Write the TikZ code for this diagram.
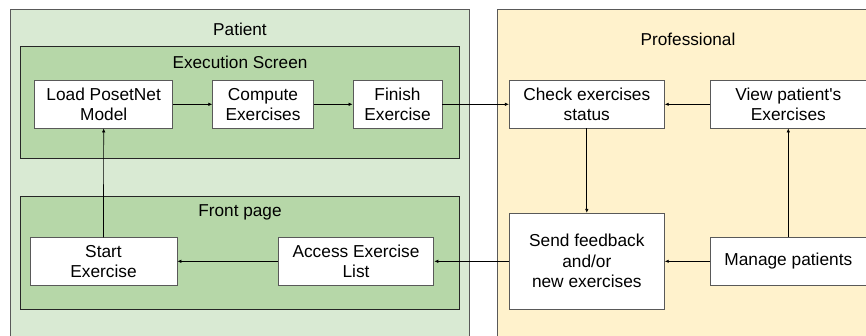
\documentclass[tikz,border=0pt]{standalone}
\usepackage{fontspec}
\setmainfont{Liberation Sans}
\usetikzlibrary{arrows.meta}
\definecolor{patbg}{HTML}{D9EAD3}
\definecolor{panelbg}{HTML}{B6D7A8}
\definecolor{probg}{HTML}{FFF2CC}
\definecolor{frame}{HTML}{595959}
\tikzset{
  lane/.style={draw=frame, line width=0.8pt},
  panel/.style={draw=black!85, line width=0.8pt, fill=panelbg},
  stepbox/.style={draw=frame, line width=0.8pt, fill=white, inner sep=0pt, align=center,
    font=\fontsize{17.3}{20.5}\selectfont},
  title/.style={font=\fontsize{17.2}{20}\selectfont},
  conn/.style={draw=black, line width=0.7pt, -{Latex[length=4pt,width=3.5pt]}}
}
\begin{document}
\begin{tikzpicture}[x=1pt,y=-1pt]
\useasboundingbox (0,0) rectangle (866,335);
\clip (0,0) rectangle (866,335);
\fill[white] (0,0) rectangle (866,335);
% lanes
\draw[lane, fill=patbg] (10,9) rectangle (469.5,345);
\draw[lane, fill=probg] (497.3,9) rectangle (880,345);
\node[title] (tpat) at (240,29) {Patient};
\node[title] (tpro) at (688,39.5) {Professional};
% panels
\draw[panel] (20.7,46.7) rectangle (459.3,158);
\draw[panel] (20.7,196.7) rectangle (459.3,309.3);
\node[title] (texe) at (240,62) {Execution Screen};
\node[title] (tfront) at (240,212.5) {Front page};
% patient steps
\node[stepbox, minimum width=138pt, minimum height=47.3pt] (load) at (103.7,104.3) {Load PosetNet\\Model};
\node[stepbox, minimum width=100.5pt, minimum height=47.3pt] (comp) at (263,104.3) {Compute\\Exercises};
\node[stepbox, minimum width=89pt, minimum height=47.3pt] (fin) at (397.5,104.3) {Finish\\Exercise};
\node[stepbox, minimum width=147pt, minimum height=47.3pt] (start) at (103.5,261.3) {Start\\Exercise};
\node[stepbox, minimum width=155.7pt, minimum height=47.3pt] (access) at (356,261.3) {Access Exercise\\List};
% professional steps
\node[stepbox, minimum width=155pt, minimum height=47.3pt] (check) at (586.8,104.3) {Check exercises\\status};
\node[stepbox, minimum width=155.3pt, minimum height=47.3pt] (view) at (788.3,104.3) {View patient\textquotesingle s\\Exercises};
\node[stepbox, minimum width=155pt, minimum height=96pt] (send) at (586.8,261.3) {Send feedback\\and/or\\new exercises};
\node[stepbox, minimum width=155.3pt, minimum height=47.3pt] (manage) at (788.3,261.3) {Manage patients};
% connectors
\draw[conn] (load) -- (comp);
\draw[conn] (comp) -- (fin);
\draw[conn] (fin) -- (check);
\draw[conn] (start) -- (load);
\draw[conn] (access) -- (start);
\draw[conn] (send.west |- access.east) -- (access.east);
\draw[conn] (check) -- (send);
\draw[conn] (view) -- (check);
\draw[conn] (manage) -- (view);
\draw[conn] (manage) -- (send.east |- manage.west);
\end{tikzpicture}
\end{document}
